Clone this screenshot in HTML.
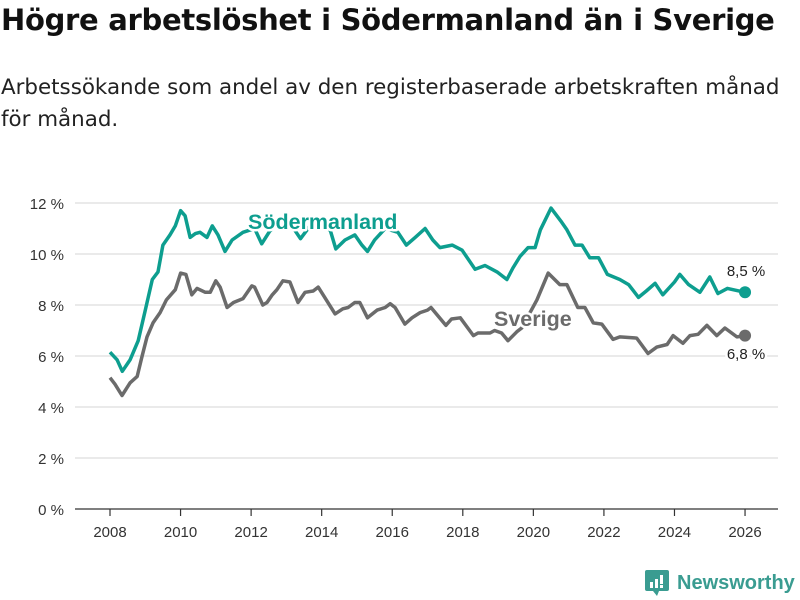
<!DOCTYPE html>
<html><head><meta charset="utf-8"><style>
body{margin:0;width:800px;height:600px;background:#fff;font-family:"Liberation Sans","DejaVu Sans",sans-serif;overflow:hidden;position:relative}
h1{position:absolute;left:1px;top:3px;margin:0;font-family:"DejaVu Sans",sans-serif;font-size:29px;font-weight:bold;color:#111;letter-spacing:-0.3px;white-space:nowrap}
p{position:absolute;left:1px;top:72px;margin:0;font-family:"DejaVu Sans",sans-serif;font-size:21.4px;line-height:32px;color:#222;white-space:nowrap}
svg{position:absolute;left:0;top:0}
</style></head><body>
<h1>Högre arbetslöshet i Södermanland än i Sverige</h1>
<p>Arbetssökande som andel av den registerbaserade arbetskraften månad<br>för månad.</p>
<svg id="chart" width="800" height="600"></svg>
<script>
const yTicks=[0,2,4,6,8,10,12];
const xTicks=[2008,2010,2012,2014,2016,2018,2020,2022,2024,2026];
const sodYears=[2008.0,2008.2,2008.35,2008.57,2008.8,2009.0,2009.2,2009.36,2009.5,2009.7,2009.85,2010.0,2010.13,2010.27,2010.42,2010.55,2010.75,2010.9,2011.06,2011.26,2011.46,2011.77,2012.1,2012.3,2012.53,2012.96,2013.4,2013.67,2014.24,2014.4,2014.66,2014.94,2015.14,2015.3,2015.5,2015.8,2016.16,2016.4,2016.65,2016.93,2017.15,2017.35,2017.7,2017.98,2018.35,2018.63,2018.97,2019.25,2019.42,2019.62,2019.85,2020.05,2020.2,2020.5,2020.8,2020.95,2021.18,2021.38,2021.6,2021.85,2022.1,2022.45,2022.7,2022.98,2023.2,2023.45,2023.67,2024.0,2024.15,2024.4,2024.72,2025.0,2025.23,2025.5,2026.0];
const sodValues=[6.15,5.85,5.4,5.85,6.6,7.8,9.0,9.3,10.35,10.75,11.1,11.7,11.5,10.65,10.8,10.85,10.65,11.1,10.75,10.1,10.55,10.85,11.0,10.4,10.9,11.5,10.6,11.1,10.95,10.2,10.55,10.75,10.35,10.1,10.55,11.0,10.85,10.35,10.65,11.0,10.55,10.25,10.35,10.15,9.4,9.55,9.3,9.0,9.45,9.9,10.25,10.25,10.95,11.8,11.25,10.95,10.35,10.35,9.85,9.85,9.2,9.0,8.8,8.3,8.55,8.85,8.4,8.9,9.2,8.8,8.5,9.1,8.45,8.65,8.5];
const sweYears=[2008.0,2008.14,2008.34,2008.57,2008.77,2008.9,2009.05,2009.22,2009.42,2009.6,2009.85,2010.0,2010.15,2010.32,2010.47,2010.7,2010.84,2011.0,2011.12,2011.32,2011.5,2011.77,2012.02,2012.1,2012.33,2012.45,2012.6,2012.73,2012.9,2013.1,2013.33,2013.53,2013.76,2013.9,2014.04,2014.38,2014.6,2014.75,2014.94,2015.08,2015.3,2015.57,2015.8,2015.94,2016.08,2016.36,2016.56,2016.79,2017.0,2017.1,2017.52,2017.68,2017.93,2018.3,2018.43,2018.77,2018.9,2019.1,2019.28,2019.53,2019.67,2020.1,2020.42,2020.75,2020.95,2021.26,2021.46,2021.7,2021.94,2022.26,2022.45,2022.93,2023.25,2023.5,2023.79,2023.96,2024.24,2024.44,2024.67,2024.92,2025.2,2025.43,2025.77,2026.0];
const sweValues=[5.15,4.9,4.45,4.95,5.2,5.95,6.75,7.3,7.7,8.2,8.6,9.25,9.2,8.4,8.65,8.5,8.5,8.95,8.7,7.9,8.1,8.25,8.75,8.7,8.0,8.1,8.4,8.6,8.95,8.9,8.1,8.5,8.55,8.7,8.4,7.65,7.85,7.9,8.1,8.1,7.5,7.8,7.9,8.05,7.9,7.25,7.5,7.7,7.8,7.9,7.2,7.45,7.5,6.8,6.9,6.9,7.0,6.9,6.6,6.95,7.1,8.2,9.25,8.8,8.8,7.9,7.9,7.3,7.25,6.65,6.75,6.7,6.1,6.35,6.45,6.8,6.5,6.8,6.85,7.2,6.8,7.1,6.75,6.8];
const NS='http://www.w3.org/2000/svg';
const svg=document.getElementById('chart');
const X=y=>110+(y-2008)*35.28;
const Y=v=>509-v*25.5;
function el(t,a,txt){const e=document.createElementNS(NS,t);for(const k in a)e.setAttribute(k,a[k]);if(txt!==undefined)e.textContent=txt;svg.appendChild(e);return e;}
yTicks.forEach(v=>{
  const l=el('line',{x1:75,x2:778,y1:Y(v),y2:Y(v),stroke:v===0?'#333':'#ddd','stroke-width':1.2});
  
  
  const t=el('text',{x:64,y:Y(v)+6,'text-anchor':'end','font-size':15,fill:'#333'},v+' %');
  
  
});
xTicks.forEach(yr=>{
  const l=el('line',{x1:X(yr),x2:X(yr),y1:509,y2:516,stroke:'#333','stroke-width':1.2});
  
  
  const t=el('text',{x:X(yr),y:537,'text-anchor':'middle','font-size':15,fill:'#333'},String(yr));
  
  
});
function line(ys,vs,c,name){
  const d=ys.map((y,i)=>(i?'L':'M')+X(y).toFixed(1)+','+Y(vs[i]).toFixed(1)).join('');
  const p=el('path',{d:d,fill:'none',stroke:c,'stroke-width':3.5,'stroke-linejoin':'round'});
  
  
  const n=ys.length-1;
  const dot=el('circle',{cx:X(ys[n]),cy:Y(vs[n]),r:6,fill:c});
  
  
}
line(sweYears,sweValues,'#6b6b6b','sverige');
line(sodYears,sodValues,'#0d9e8f','sodermanland');
function label(x,y,txt,c,name,size,bold,anchor){
  const t=el('text',{x:x,y:y,'font-size':size,'font-weight':bold?'bold':'normal',fill:c,stroke:'#fff','stroke-width':5,'paint-order':'stroke','stroke-linejoin':'round','text-anchor':anchor||'start'},txt);
  
  
}
label(248,229,'Södermanland','#0d9e8f','sodermanland-label',21.5,true);
label(494,326,'Sverige','#6b6b6b','sverige-label',21.5,true);
label(746,276,sodValues[sodValues.length-1].toFixed(1).replace('.',',')+' %','#222','sodermanland-end-value',15,false,'middle');
label(746,359,sweValues[sweValues.length-1].toFixed(1).replace('.',',')+' %','#222','sverige-end-value',15,false,'middle');
</script>
<div style="position:absolute;left:645px;top:570px;display:flex;align-items:center;gap:8px">
 <svg width="24" height="26" viewBox="0 0 24 26" style="position:static"><rect x="0" y="0" width="24" height="21" rx="2" fill="#3a9c91"/><path d="M8 21 L12 26 L14 21Z" fill="#3a9c91"/><rect x="5" y="12" width="3" height="6" fill="#fff"/><rect x="10" y="9" width="3" height="9" fill="#fff"/><rect x="15" y="5" width="3" height="9" fill="#fff"/><rect x="15" y="15" width="3" height="3" fill="#fff"/></svg>
 <span style="font-size:20px;font-weight:bold;color:#3a9c91">Newsworthy</span>
</div>
</body></html>
